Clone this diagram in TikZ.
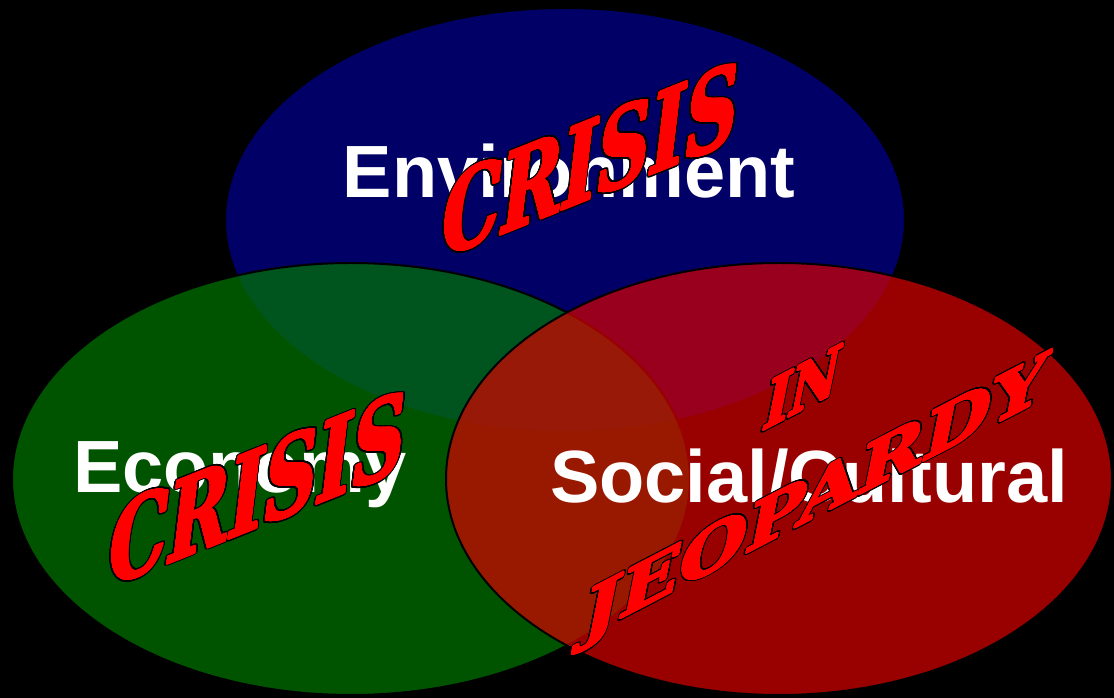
\documentclass[tikz,border=0pt]{standalone}
\usepackage{fontspec}
\usepackage{graphicx}
\setmainfont{Liberation Serif}
\setsansfont{Liberation Sans}
\newfontfamily\wafont{DejaVu Serif}
\usepackage{contour}
\contournumber{32}
\usetikzlibrary{shapes.geometric}
\definecolor{envblue}{RGB}{0,0,102}
\definecolor{ecogreen}{RGB}{0,121,0}
\definecolor{socred}{RGB}{218,0,0}
\newcommand\wordart[3]{%
  \rlap{\contourlength{2.4pt}\contour{black}{\resizebox{#1}{#2}{#3}}}%
  \contourlength{0.8pt}\contour{red}{\resizebox{#1}{#2}{#3}}}
\begin{document}
\begin{tikzpicture}[x=1pt,y=1pt,
  venn/.style={ellipse, draw=black, line width=2pt, inner sep=0pt, fill opacity=0.7, draw opacity=1},
  lbl/.style={inner sep=0pt, text=white, font=\sffamily\bfseries\fontsize{74}{80}\selectfont},
  wa/.style={inner sep=0pt, text=red, font=\wafont\bfseries\fontsize{100}{100}\selectfont, transform shape}]
\fill[black] (0,0) rectangle (1114,698);
\useasboundingbox (0,0) rectangle (1114,698);
% circles
\node[venn, fill=envblue, fill opacity=1, minimum width=680pt, minimum height=424pt] (env) at (565,478) {};
\node[venn, fill=ecogreen, minimum width=678pt, minimum height=432pt] (eco) at (351,219) {};
\node[venn, fill=socred, minimum width=666pt, minimum height=432pt] (soc) at (779,219) {};
% labels
\node[lbl, anchor=base] (envl) at (569,500) {Environment};
\node[lbl, anchor=base west] (ecol) at (73,205) {Economy};
\node[lbl, anchor=base west] (socl) at (550,195) {Social/Cultural};
% word art
\begin{scope}[cm={1,0.40,0.12,1,(438,438)}]
\node[wa, anchor=base west] (crisisA) at (0,0) {\wordart{296pt}{84pt}{CRISIS}};
\end{scope}
\begin{scope}[cm={1,0.40,0.12,1,(105,109)}]
\node[wa, anchor=base west] (crisisB) at (0,0) {\wordart{296pt}{84pt}{CRISIS}};
\end{scope}
\begin{scope}[cm={1,0.52,0.2,1,(761,266)}]
\node[wa, anchor=base west] (inw) at (0,0) {\wordart{74pt}{51pt}{IN}};
\end{scope}
\begin{scope}[cm={1,0.52,0.2,1,(580,58)}]
\node[wa, anchor=base west] (jeop) at (0,0) {\wordart{462pt}{51pt}{JEOPARDY}};
\end{scope}
\end{tikzpicture}
\end{document}
